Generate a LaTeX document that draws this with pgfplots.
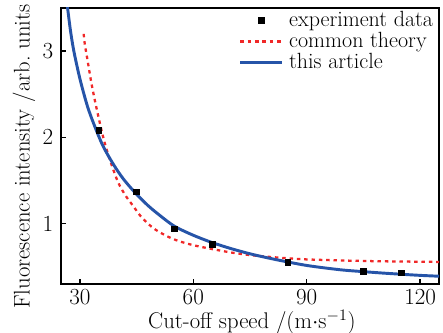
\documentclass[border=0pt]{standalone}
\usepackage{pgfplots}
\pgfplotsset{compat=1.18}
\definecolor{myblue}{RGB}{38,84,168}
\definecolor{myred}{RGB}{240,40,40}
\newcommand{\fs}{\fontsize{17}{20}\selectfont}
\pgfplotsset{
 linelegend/.style={legend image code/.code={\draw[##1] (0pt,0pt) -- (31.5pt,0pt);}},
 marklegend/.style={legend image code/.code={\draw[##1] plot coordinates {(15.75pt,0pt)}; \path (0pt,0pt) (31.5pt,0pt);}},
}
\begin{document}
\fs
\begin{tikzpicture}
\begin{axis}[
  scale only axis,
  width=283.5pt, height=207pt,
  xmin=25, xmax=125, ymin=0.3, ymax=3.5,
  xtick={30,60,90,120}, ytick={1,2,3},
  tick pos=left, tick align=inside,
  major tick length=4pt,
  axis line style={line width=1.1pt},
  every tick/.style={black, line width=1pt},
  tick label style={font=\fs},
  xticklabel style={inner sep=0pt, yshift=-4pt},
  label style={font=\fs},
  xlabel={Cut-off speed /(m$\cdot$s$^{-1}$)},
  ylabel={Fluorescence intensity /arb.\ units},
  ylabel style={at={(axis description cs:-0.098,0.462)}, anchor=center, inner sep=0pt},
  xlabel style={at={(axis description cs:0.505,-0.139)}, anchor=center, inner sep=0pt},
  legend style={draw=none, fill=none, at={(axis description cs:0.985,0.99)}, anchor=north east,
    font=\fontsize{16.5}{19}\selectfont, row sep=1.8pt, inner sep=0pt, column sep=4pt,
    nodes={inner sep=0pt}},
  legend cell align=left,
  clip=true,
]
\coordinate (SW) at (rel axis cs:0,0);
\coordinate (NE) at (rel axis cs:1,1);
\addplot[only marks, mark=square*, mark size=2.2pt, black, marklegend] coordinates {
 (35,2.08) (45,1.37) (55,0.94) (65,0.76) (85,0.55) (105,0.45) (115,0.43)
};
\addlegendentry{experiment data}
\addplot[myred, line width=1.7pt, dash pattern=on 2.6pt off 2.9pt, smooth, linelegend] coordinates {
 (31.0,3.20) (31.3,3.08) (32,2.90) (33,2.64) (34,2.42) (35,2.22) (36,2.03) (37,1.87) (38,1.73)
 (40,1.49) (42,1.33) (44,1.21) (46,1.09) (48,1.00) (50,0.93) (53,0.855) (56,0.80)
 (60,0.75) (65,0.705) (70,0.665) (75,0.635) (80,0.615) (85,0.598) (90,0.585)
 (100,0.572) (110,0.563) (125,0.556)
};
\addlegendentry{common theory}
\addplot[myblue, line width=2.2pt, smooth, linelegend] coordinates {
 (26.6,3.55) (27.5,3.24) (28.4,3.00) (30,2.68) (32,2.36) (34,2.12) (36,1.91) (38,1.75)
 (40,1.61) (42,1.49) (45,1.34) (48,1.21) (51,1.10) (55,0.97) (60,0.865) (65,0.78)
 (70,0.71) (75,0.65) (80,0.60) (85,0.555) (90,0.515) (95,0.485) (100,0.46)
 (105,0.443) (110,0.427) (115,0.413) (120,0.40) (125,0.39)
};
\addlegendentry{this article}
\end{axis}
\pgfresetboundingbox
\path ([shift={(-45.75pt,-36.75pt)}]SW) rectangle ([shift={(3pt,6pt)}]NE);
\end{tikzpicture}
\end{document}
